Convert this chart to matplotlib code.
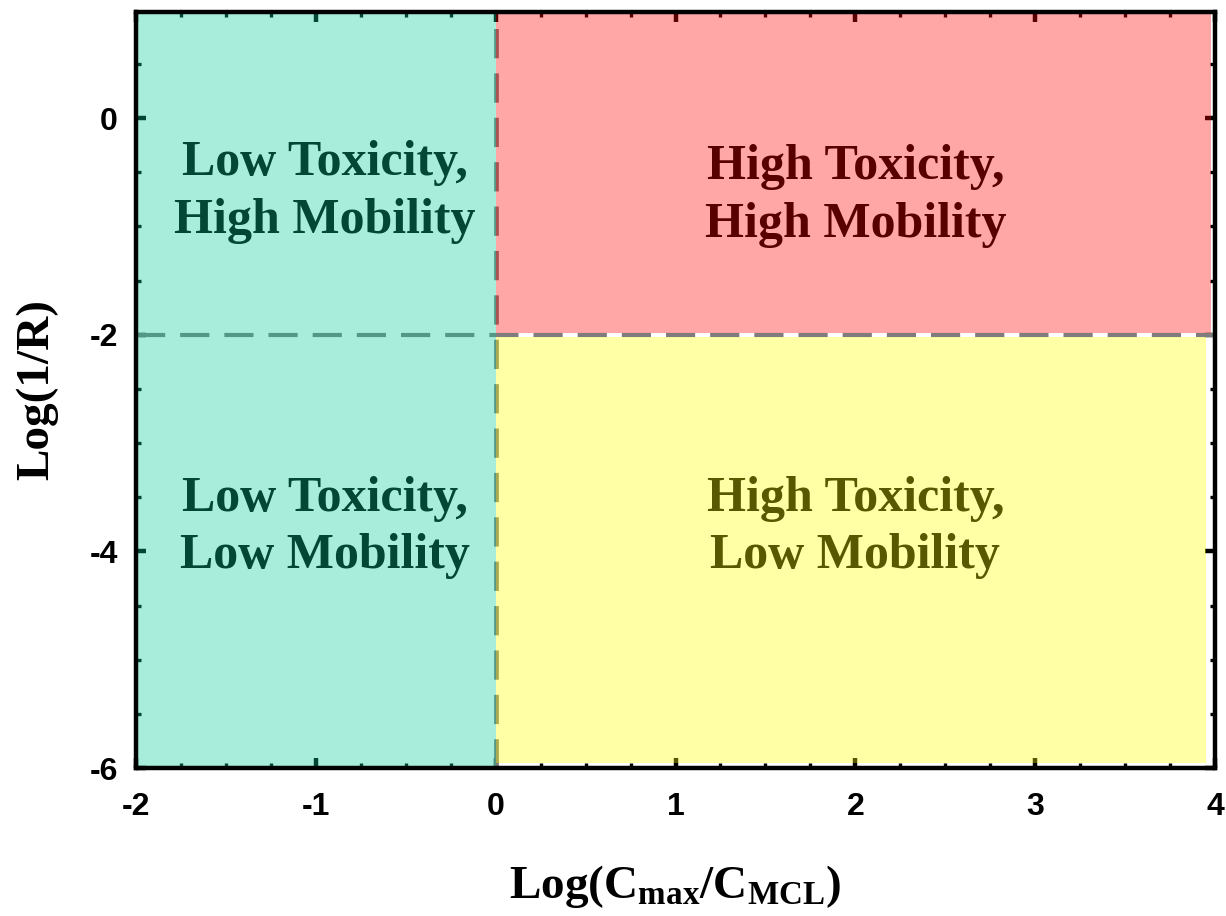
import matplotlib

matplotlib.use("Agg")
import matplotlib.pyplot as plt
from matplotlib.patches import Rectangle
from matplotlib.ticker import MultipleLocator

# Quadrant bounds in data units: (x0, x1, y0, y1)
region_names = ["low_high", "high_high", "high_low"]
region_bounds = [(-2.0, 0.0, -6.0, 1.0), (0.0, 3.98, -1.985, 1.0), (0.0, 3.95, -5.955, -2.02)]
region_colors = ["#06cc9b", "#ff0000", "#ffff00"]

# Region captions and where they sit
label_texts = [
    "Low Toxicity,\nHigh Mobility",
    "High Toxicity,\nHigh Mobility",
    "Low Toxicity,\nLow Mobility",
    "High Toxicity,\nLow Mobility",
]
label_x = [-0.95, 2.0, -0.95, 2.0]
label_y = [-0.68, -0.72, -3.78, -3.78]

# Threshold lines
x_threshold = 0.0
y_threshold = -2.0

x_limits = (-2, 4)
y_limits = (-6, 0.98)
x_ticks = [-2, -1, 0, 1, 2, 3, 4]
y_ticks = [-6, -4, -2, 0]

plt.rcParams["axes.unicode_minus"] = False
plt.rcParams["mathtext.fontset"] = "custom"
plt.rcParams["mathtext.rm"] = "Liberation Serif:bold"
plt.rcParams["mathtext.it"] = "Liberation Serif:bold"
plt.rcParams["mathtext.bf"] = "Liberation Serif:bold"

fig = plt.figure(figsize=(12.26, 9.16), dpi=100)
ax = fig.add_axes([136 / 1226, 1 - 768 / 916, (1215 - 136) / 1226, (768 - 12) / 916])
ax.set_xlim(*x_limits)
ax.set_ylim(*y_limits)

# ticks, dashes and captions go under the translucent fills
ax.set_axisbelow(True)
ax.axvline(x_threshold, color="#7d7d7d", lw=3.4, ls=(0, (6.2, 3.2)), zorder=0.8)
ax.axhline(y_threshold, color="#7d7d7d", lw=3.0, ls=(0, (7.0, 3.6)), zorder=0.8)

for text, tx, ty in zip(label_texts, label_x, label_y):
    ax.text(
        tx, ty, text,
        ha="center", va="center", multialignment="center",
        fontsize=36, fontweight="bold", family="Liberation Serif",
        color="black", linespacing=1.33, zorder=0.9,
    )

for (x0, x1, y0, y1), color in zip(region_bounds, region_colors):
    ax.add_patch(Rectangle((x0, y0), x1 - x0, y1 - y0, facecolor=color,
                           edgecolor="none", alpha=0.35, zorder=1))

ax.xaxis.set_major_locator(MultipleLocator(1))
ax.xaxis.set_minor_locator(MultipleLocator(0.25))
ax.set_yticks(y_ticks)
ax.yaxis.set_minor_locator(MultipleLocator(0.5))
ax.set_xticks(x_ticks)

ax.tick_params(which="both", direction="in", top=True, right=True, color="black")
ax.tick_params(which="major", length=7, width=3.2)
ax.tick_params(which="minor", length=3.5, width=2.4)
ax.tick_params(axis="x", which="major", pad=17)
ax.tick_params(axis="y", which="major", pad=13)
for lbl in ax.get_xticklabels() + ax.get_yticklabels():
    lbl.set_family("Liberation Sans")
    lbl.set_fontweight("bold")
    lbl.set_fontsize(23)

for spine in ax.spines.values():
    spine.set_linewidth(3.2)
    spine.set_color("black")
    spine.set_zorder(3)

ax.set_xlabel(r"$\mathrm{Log(C_{max}/C_{MCL})}$", fontsize=34)
ax.xaxis.set_label_coords(0.5, -0.125)
ax.set_ylabel("Log(1/R)", fontsize=34, fontweight="bold", family="Liberation Serif")
ax.yaxis.set_label_coords(-0.072, 0.5)

fig.savefig("out.png", dpi=100)
